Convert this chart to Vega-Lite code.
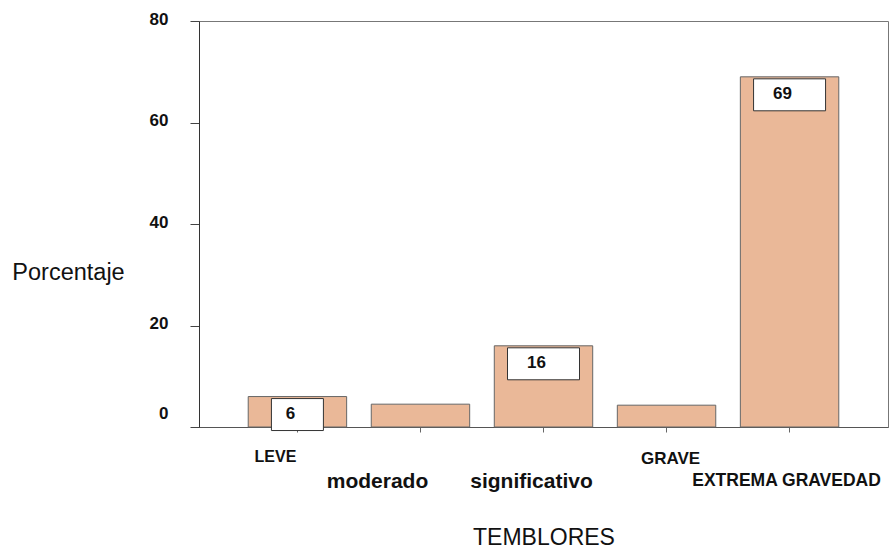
{
  "$schema": "https://vega.github.io/schema/vega-lite/v6.json",
  "width": 689,
  "height": 406,
  "autosize": "none",
  "padding": {"left": 199, "top": 21, "right": 2, "bottom": 121},
  "background": "white",
  "config": {
    "view": {"stroke": "#777", "strokeWidth": 1},
    "font": "Liberation Sans"
  },
  "data": {
    "values": [
      {"nivel": "LEVE", "pct": 6, "etiqueta": "6"},
      {"nivel": "moderado", "pct": 4.5, "etiqueta": null},
      {"nivel": "significativo", "pct": 16, "etiqueta": "16"},
      {"nivel": "GRAVE", "pct": 4.3, "etiqueta": null},
      {"nivel": "EXTREMA GRAVEDAD", "pct": 69, "etiqueta": "69"}
    ]
  },
  "encoding": {
    "x": {
      "field": "nivel",
      "type": "nominal",
      "sort": null,
      "scale": {"paddingInner": 0.2, "paddingOuter": 0.4},
      "axis": {
        "title": "TEMBLORES",
        "titleFont": "Liberation Sans",
        "titleFontSize": 23,
        "titleFontWeight": "normal",
        "titleColor": "#111",
        "titleBaseline": "middle",
        "titleY": 110,
        "labelAngle": 0,
        "labelLimit": 0,
        "labelFont": "Liberation Sans",
        "labelFontWeight": "bold",
        "labelColor": "#111",
        "labelBaseline": "alphabetic",
        "labelFontSize": {
          "condition": [
            {"test": "datum.value == 'LEVE'", "value": 16},
            {"test": "datum.value == 'GRAVE'", "value": 17},
            {"test": "datum.value == 'EXTREMA GRAVEDAD'", "value": 17.5}
          ],
          "value": 21
        },
        "labelPadding": {
          "condition": [
            {"test": "datum.value == 'LEVE'", "value": 29},
            {"test": "datum.value == 'GRAVE'", "value": 31},
            {"test": "datum.value == 'EXTREMA GRAVEDAD'", "value": 53}
          ],
          "value": 55
        },
        "labelOffset": {
          "condition": [
            {"test": "datum.value == 'LEVE'", "value": -22},
            {"test": "datum.value == 'moderado'", "value": -43},
            {"test": "datum.value == 'significativo'", "value": -12},
            {"test": "datum.value == 'GRAVE'", "value": 4}
          ],
          "value": -3
        },
        "tickSize": 5,
        "tickColor": "#666",
        "domainColor": "#555",
        "labelOverlap": false
      }
    },
    "y": {
      "field": "pct",
      "type": "quantitative",
      "scale": {"domain": [0, 80], "nice": false},
      "axis": {
        "values": [0, 20, 40, 60, 80],
        "grid": false,
        "title": "Porcentaje",
        "titleAngle": 0,
        "titleFont": "Liberation Sans",
        "titleFontSize": 23.5,
        "titleFontWeight": "normal",
        "titleColor": "#111",
        "titleAlign": "center",
        "titleBaseline": "middle",
        "titleX": -131,
        "titleY": 251,
        "labelFont": "Liberation Sans",
        "labelFontSize": 17,
        "labelFontWeight": "bold",
        "labelColor": "#111",
        "labelPadding": 22,
        "labelOffset": {
          "condition": {"test": "datum.value == 0", "value": -14},
          "value": -2
        },
        "tickSize": 9,
        "tickColor": "#444",
        "domainColor": "#333"
      }
    }
  },
  "layer": [
    {
      "mark": {"type": "bar", "fill": "#EAB898", "stroke": "#666", "strokeWidth": 1}
    },
    {
      "transform": [{"filter": "isValid(datum.etiqueta)"}],
      "mark": {
        "type": "point",
        "filled": true,
        "fill": "white",
        "stroke": "#333",
        "strokeWidth": 1,
        "opacity": 1,
        "size": 5184,
        "yOffset": 18
      },
      "encoding": {
        "shape": {
          "condition": {"test": "datum.pct < 10", "value": "M-0.722,-0.444H0.722V0.444H-0.722Z"},
          "value": "M-1,-0.444H1V0.444H-1Z"
        }
      }
    },
    {
      "transform": [{"filter": "isValid(datum.etiqueta)"}],
      "mark": {
        "type": "text",
        "font": "Liberation Sans",
        "fontSize": 17,
        "fontWeight": "bold",
        "color": "#111",
        "baseline": "middle",
        "dx": -7,
        "yOffset": 17
      },
      "encoding": {"text": {"field": "etiqueta"}}
    }
  ]
}
